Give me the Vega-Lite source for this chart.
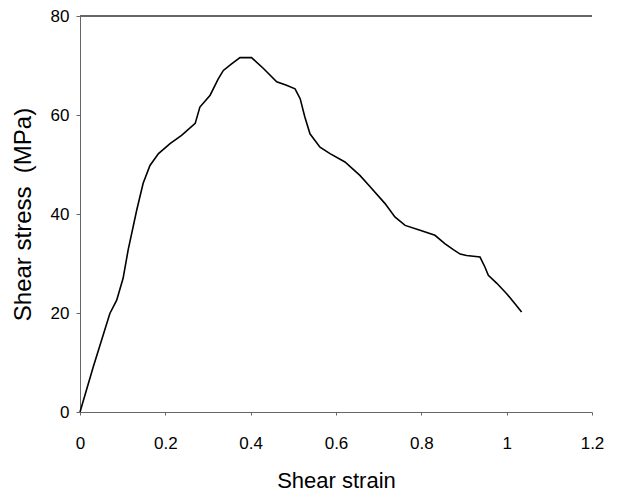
{
  "$schema": "https://vega.github.io/schema/vega-lite/v6.json",
  "autosize": "none",
  "width": 512,
  "height": 396,
  "padding": {"left": 80, "top": 16, "right": 30, "bottom": 85},
  "background": "white",
  "config": {
    "view": {"stroke": null},
    "font": "Liberation Sans",
    "axis": {"grid": false, "labelFont": "Liberation Sans", "titleFont": "Liberation Sans", "labelColor": "black", "titleColor": "black", "titleFontWeight": "normal", "domainColor": "#666", "tickColor": "#666"}
  },
  "data": {
    "values": [
      {"strain": 0.0, "stress": 0.0},
      {"strain": 0.031, "stress": 9.1},
      {"strain": 0.070, "stress": 19.9},
      {"strain": 0.086, "stress": 22.6},
      {"strain": 0.101, "stress": 27.0},
      {"strain": 0.113, "stress": 32.8},
      {"strain": 0.133, "stress": 40.8},
      {"strain": 0.148, "stress": 46.2},
      {"strain": 0.164, "stress": 49.8},
      {"strain": 0.184, "stress": 52.2},
      {"strain": 0.211, "stress": 54.2},
      {"strain": 0.238, "stress": 55.9},
      {"strain": 0.270, "stress": 58.3},
      {"strain": 0.281, "stress": 61.6},
      {"strain": 0.305, "stress": 64.0},
      {"strain": 0.324, "stress": 67.3},
      {"strain": 0.336, "stress": 69.0},
      {"strain": 0.356, "stress": 70.4},
      {"strain": 0.375, "stress": 71.6},
      {"strain": 0.402, "stress": 71.6},
      {"strain": 0.430, "stress": 69.4},
      {"strain": 0.461, "stress": 66.7},
      {"strain": 0.484, "stress": 66.0},
      {"strain": 0.504, "stress": 65.3},
      {"strain": 0.516, "stress": 63.3},
      {"strain": 0.527, "stress": 59.6},
      {"strain": 0.539, "stress": 56.2},
      {"strain": 0.5625, "stress": 53.5},
      {"strain": 0.586, "stress": 52.2},
      {"strain": 0.621, "stress": 50.5},
      {"strain": 0.656, "stress": 47.8},
      {"strain": 0.680, "stress": 45.5},
      {"strain": 0.715, "stress": 42.1},
      {"strain": 0.738, "stress": 39.4},
      {"strain": 0.762, "stress": 37.7},
      {"strain": 0.797, "stress": 36.7},
      {"strain": 0.832, "stress": 35.7},
      {"strain": 0.855, "stress": 34.0},
      {"strain": 0.875, "stress": 32.8},
      {"strain": 0.891, "stress": 31.9},
      {"strain": 0.906, "stress": 31.6},
      {"strain": 0.9375, "stress": 31.3},
      {"strain": 0.949, "stress": 29.3},
      {"strain": 0.957, "stress": 27.6},
      {"strain": 0.977, "stress": 26.0},
      {"strain": 1.0, "stress": 23.9},
      {"strain": 1.019, "stress": 21.9},
      {"strain": 1.035, "stress": 20.2}
    ]
  },
  "layer": [
    {
      "mark": {"type": "rule", "color": "#666", "strokeWidth": 1},
      "encoding": {"y": {"datum": 80, "type": "quantitative"}}
    },
    {
      "mark": {"type": "line", "color": "black", "strokeWidth": 1.6},
      "encoding": {
        "x": {
          "field": "strain", "type": "quantitative",
          "scale": {"domain": [0, 1.2], "nice": false},
          "axis": {"title": "Shear strain", "values": [0, 0.2, 0.4, 0.6, 0.8, 1, 1.2], "format": "~g", "labelFontSize": 17, "titleFontSize": 22, "tickSize": 3, "labelPadding": 20, "titlePadding": 19, "labelFlush": false}
        },
        "y": {
          "field": "stress", "type": "quantitative",
          "scale": {"domain": [0, 80], "nice": false},
          "axis": {"title": "Shear stress\u00a0 (MPa)", "values": [0, 20, 40, 60, 80], "labelFontSize": 17, "titleFontSize": 24, "tickSize": 4, "labelPadding": 7, "titlePadding": 15}
        }
      }
    }
  ]
}
